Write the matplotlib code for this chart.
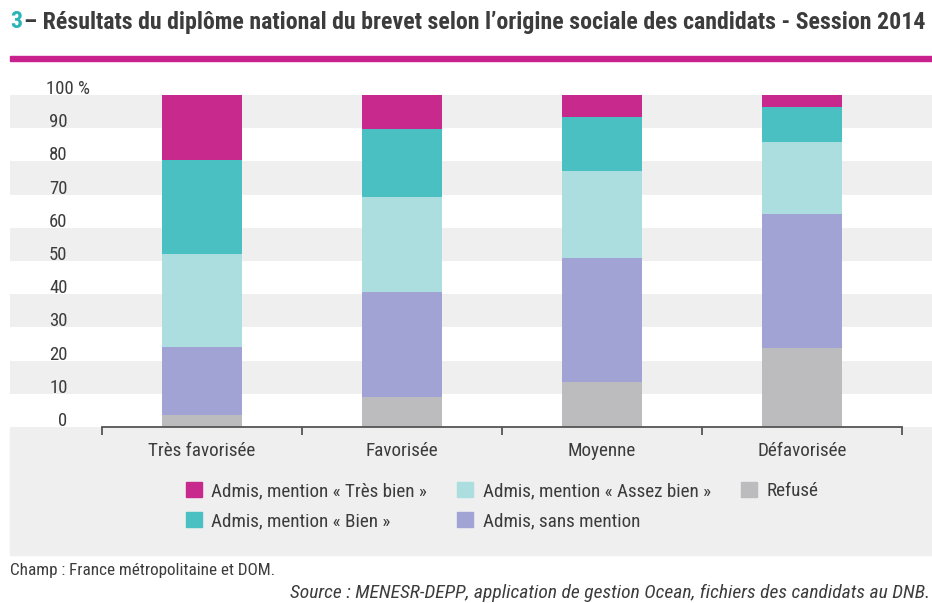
import matplotlib
matplotlib.use("Agg")
import matplotlib.pyplot as plt
import matplotlib.transforms as mtransforms
from matplotlib.patches import Patch, Rectangle
import numpy as np

plt.rcParams['font.family'] = ['Roboto Condensed', 'Liberation Sans Narrow', 'Roboto', 'DejaVu Sans']

# données (en %)
categories = ["Très favorisée", "Favorisée", "Moyenne", "Défavorisée"]
refuse = [3.6, 9.1, 13.6, 23.7]
sans_mention = [20.6, 31.7, 37.2, 40.5]
assez_bien = [27.9, 28.4, 26.4, 21.7]
bien = [28.3, 20.5, 16.3, 10.6]
tres_bien = [19.6, 10.3, 6.5, 3.5]

series = [
    ("Refusé", refuse, "#bcbcbf"),
    ("Admis, sans mention", sans_mention, "#a0a3d3"),
    ("Admis, mention « Assez bien »", assez_bien, "#acdedf"),
    ("Admis, mention « Bien »", bien, "#4bc0c2"),
    ("Admis, mention « Très bien »", tres_bien, "#c8298c"),
]

yticks = [0, 10, 20, 30, 40, 50, 60, 70, 80, 90, 100]
ylabels = ["0", "10", "20", "30", "40", "50", "60", "70", "80", "90", "100 %"]

txt = "#3c3c3c"
band = "#efefef"

W, H = 932, 603
fig = plt.figure(figsize=(W / 100, H / 100), dpi=100)

# fond gris sous l'axe (zone des libellés et de la légende)
fig.add_artist(Rectangle((10 / W, 1 - 555 / H), 922 / W, 128 / H,
                         transform=fig.transFigure, color=band, zorder=0))
# filet magenta sous le titre
fig.add_artist(Rectangle((10 / W, 1 - 61 / H), 922 / W, 5 / H,
                         transform=fig.transFigure, color="#c8208c", zorder=1))

ax = fig.add_axes([10 / W, 1 - 427 / H, 922 / W, 332 / H])
ax.set_facecolor("white")
x = np.arange(len(categories))
ax.set_xlim(-0.96, 3.65)
ax.set_ylim(0, 100)

# bandes horizontales alternées
for lo in yticks[1::2]:
    ax.axhspan(lo, lo + 10, color=band, zorder=0, lw=0)

bottom = np.zeros(len(categories))
for name, vals, col in series:
    ax.bar(x, vals, 0.4, bottom=bottom, color=col, label=name, zorder=2)
    bottom += np.array(vals)

for s in ["top", "right", "left"]:
    ax.spines[s].set_visible(False)
ax.spines["bottom"].set_bounds(-0.5, len(categories) - 0.5)
ax.spines["bottom"].set_color("#555555")
ax.spines["bottom"].set_linewidth(1.3)
ax.spines["bottom"].set_zorder(3)

ax.set_xticks(x)
ax.set_xticklabels(categories, fontsize=13.8, color=txt)
ax.set_xticks(np.arange(len(categories) + 1) - 0.5, minor=True)
ax.tick_params(axis="x", which="major", length=0, pad=11)
ax.tick_params(axis="x", which="minor", length=6, width=1.3, color="#555555", direction="out")

ax.set_yticks(yticks)
ax.set_yticklabels(ylabels, fontsize=13.5, color=txt)
ax.tick_params(axis="y", length=0, pad=-41.5)
for lab in ax.get_yticklabels():
    dx = 22 / 100 if lab.get_text().endswith("%") else 0
    lab.set_transform(lab.get_transform() +
                      mtransforms.ScaledTranslation(dx, 8 / 100, fig.dpi_scale_trans))

# légende, ordre de lecture du document
order = [4, 3, 2, 1, 0]
handles = [Patch(color=series[i][2]) for i in order]
labels = [series[i][0] for i in order]
fig.legend(handles, labels, ncol=3, loc="upper left",
           bbox_to_anchor=(176 / W, 1 - 472 / H), frameon=False,
           fontsize=13.8, labelcolor=txt, handlelength=0.85, handleheight=0.85,
           handletextpad=0.5, labelspacing=0.62, columnspacing=1.55, borderpad=0)

fig.text(10 / W, 1 - 22 / H, "3", color="#2bb5b8", fontsize=17.2,
         fontweight="bold", va="center", ha="left")
fig.text(24 / W, 1 - 22 / H,
         "– Résultats du diplôme national du brevet selon l’origine sociale des candidats - Session 2014",
         color=txt, fontsize=17.2, fontweight="bold", va="center", ha="left")

fig.text(10 / W, 1 - 570 / H, "Champ : France métropolitaine et DOM.",
         color=txt, fontsize=12.3, va="center", ha="left")
fig.text(930 / W, 1 - 593 / H,
         "Source : MENESR-DEPP, application de gestion Ocean, fichiers des candidats au DNB.",
         color=txt, fontsize=14, style="italic", va="center", ha="right")

fig.savefig("out.png", dpi=100, facecolor="white")
